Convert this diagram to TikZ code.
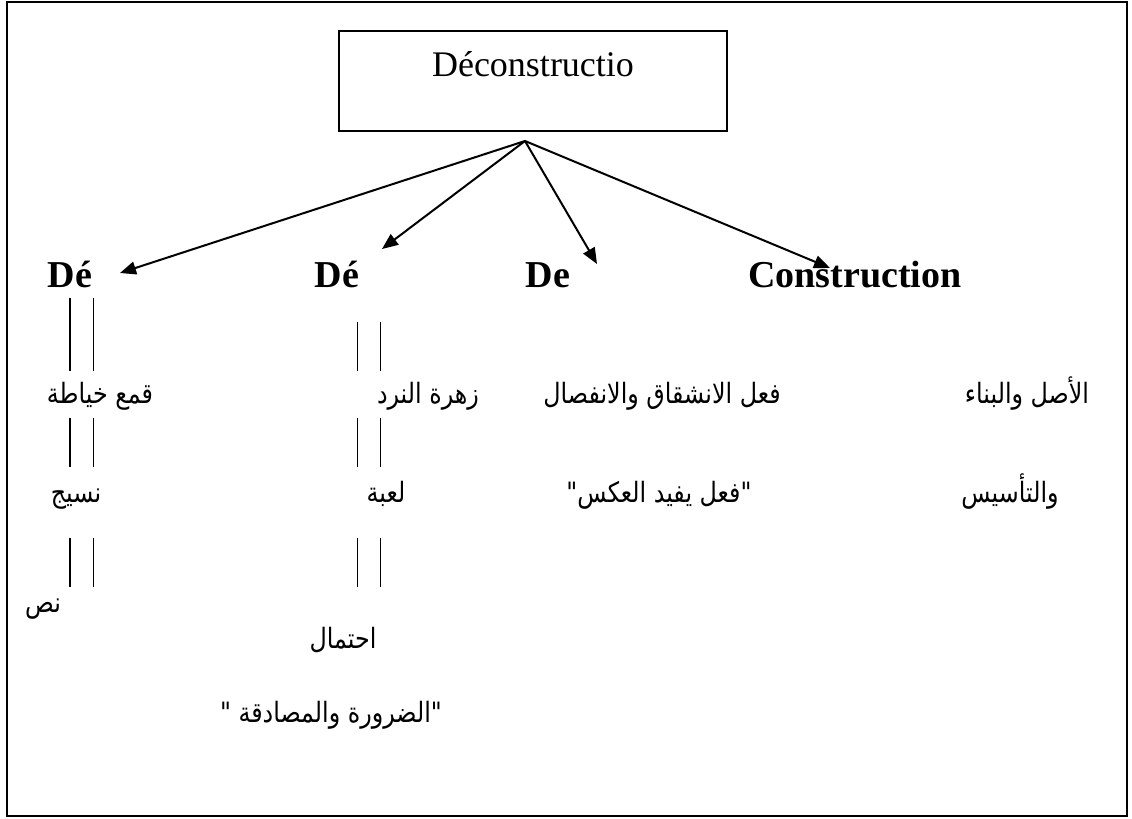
\documentclass[tikz,border=0pt]{standalone}
\usepackage{fontspec}
\setmainfont{Liberation Serif}
\newfontfamily\arabicfont[Script=Arabic,FakeStretch=0.85]{DejaVu Sans}
\TeXXeTstate=1
\usetikzlibrary{arrows.meta}

\begin{document}
\begin{tikzpicture}[x=0.5pt, y=-0.5pt, >={Triangle[length=8pt,width=6.5pt]},
  every node/.style={align=center, inner sep=1pt},
  termlbl/.style={font=\fontsize{19}{22}\selectfont\bfseries, anchor=base},
  artxt/.style={font=\arabicfont\fontsize{14}{17}\selectfont, anchor=base},
  bars/.style={double, double distance=11pt, line width=0.65pt}]
  \useasboundingbox (0,0) rectangle (1132,819);
  \draw[line width=1pt] (7,2) rectangle (1127,816);
  % top box
  \node[draw, line width=0.9pt, minimum width=194pt, minimum height=50pt, text height=14pt, text depth=19pt,
        font=\fontsize{18}{22}\selectfont] (dec) at (533,81) {Déconstructio};
  \coordinate (top) at (525,141);
  % the four parts of the word
  \node[termlbl] (de1) at (70,287) {Dé};
  \node[termlbl] (de2) at (337,287) {Dé};
  \node[termlbl] (de3) at (548,287) {De};
  \node[termlbl] (cons) at (855,287) {Construction};
  \coordinate (t1) at (120,273); \coordinate (t2) at (382,249);
  \coordinate (t3) at (597,264); \coordinate (t4) at (830,268);
  \foreach \t in {t1,t2,t3,t4} \draw[->,line width=1pt] (top) -- (\t);
  % meanings
  \node[artxt] (qm) at (100,403) {\beginR قمع خياطة\endR};
  \node[artxt] (nsj) at (76,502) {\beginR نسيج\endR};
  \node[artxt] (ns) at (43,612) {\beginR نص\endR};
  \node[artxt] (zhr) at (428,403) {\beginR زهرة النرد\endR};
  \node[artxt] (lb) at (386,502) {\beginR لعبة\endR};
  \node[artxt] (ihm) at (343,648) {\beginR احتمال\endR};
  \node[artxt] (drr) at (331,722) {"\ \beginR الضرورة والمصادقة\endR"};
  \node[artxt] (fil) at (662,403) {\beginR فعل الانشقاق والانفصال\endR};
  \node[artxt] (yfd) at (659,502) {"\beginR فعل يفيد العكس\endR"};
  \node[artxt] (asl) at (1027,403) {\beginR الأصل والبناء\endR};
  \node[artxt] (tas) at (1010,502) {\beginR والتأسيس\endR};
  % double bars
  \foreach \x/\ya/\yb in {81.5/298/371, 81.5/418/467, 81.5/538/587,
                          369/322/371, 369/418/467, 369/538/587}
    \draw[bars] (\x,\ya) -- (\x,\yb);
\end{tikzpicture}
\end{document}
